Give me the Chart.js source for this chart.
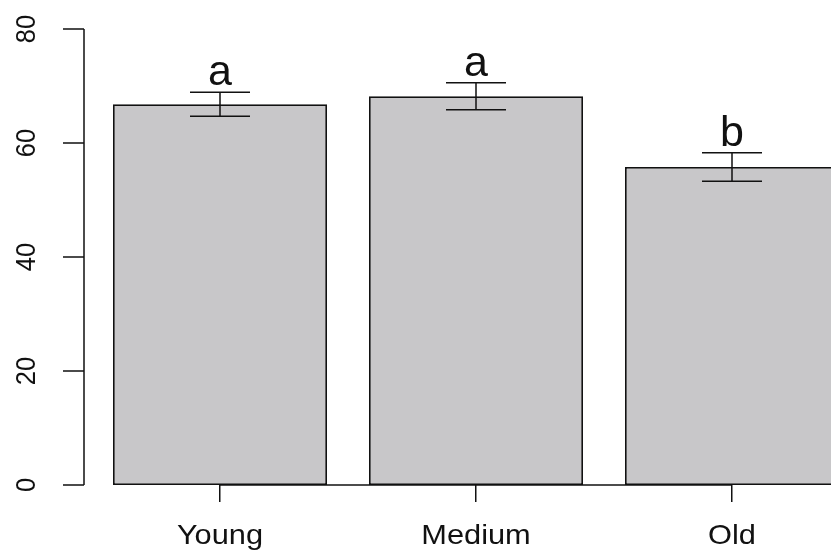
<!DOCTYPE html>
<html>
<head>
<meta charset="utf-8">
<script src="https://cdn.jsdelivr.net/npm/chart.js@4.4.1/dist/chart.umd.min.js"></script>
<style>
  html, body { margin: 0; padding: 0; background: #fff; overflow: hidden; }
  #wrap { width: 831px; height: 554px; overflow: hidden; position: relative; }
  canvas { display: block; }
</style>
</head>
<body>
<div id="wrap"><canvas id="c" width="860" height="554"></canvas></div>
<script>
// Group means with standard errors and significance letters
const categories = ['Young', 'Medium', 'Old'];
const means = [66.8, 68.2, 55.8];
const stdErr = [2.1, 2.35, 2.5];
const groupLetters = ['a', 'a', 'b'];
const yTicks = [0, 20, 40, 60, 80];

const FONT = '"Liberation Sans", Arial, Helvetica, sans-serif';
const INK = '#111';
const WIDE = 1.1; // glyphs are drawn slightly wide, like the device output

// Draws the R-style y axis, the x baseline and labels, error bars and letters
const rStyleDecor = {
  id: 'rStyleDecor',
  afterDatasetsDraw(chart) {
    const { ctx, scales: { x, y }, chartArea } = chart;
    ctx.save();
    ctx.strokeStyle = INK;
    ctx.fillStyle = INK;
    ctx.lineWidth = 1.5;

    // x baseline from first to last category tick
    const bY = y.getPixelForValue(0);
    ctx.beginPath();
    ctx.moveTo(x.getPixelForValue(0), bY);
    ctx.lineTo(x.getPixelForValue(categories.length - 1), bY);
    ctx.stroke();

    // category labels under the ticks
    ctx.font = '28px ' + FONT;
    ctx.textAlign = 'center';
    ctx.textBaseline = 'alphabetic';
    categories.forEach((c, i) => {
      ctx.save();
      ctx.translate(x.getPixelForValue(i), bY + 59);
      ctx.scale(WIDE, 1);
      ctx.fillText(c, 0, 0);
      ctx.restore();
    });

    // y axis line, ticks and rotated labels
    const ax = chartArea.left - 8;
    ctx.beginPath();
    ctx.moveTo(ax, y.getPixelForValue(yTicks[0]));
    ctx.lineTo(ax, y.getPixelForValue(yTicks[yTicks.length - 1]));
    yTicks.forEach(v => {
      const py = y.getPixelForValue(v);
      ctx.moveTo(ax, py);
      ctx.lineTo(ax - 21, py);
    });
    ctx.stroke();

    ctx.font = '28px ' + FONT;
    yTicks.forEach(v => {
      const py = y.getPixelForValue(v);
      ctx.save();
      ctx.translate(ax - 49, py);
      ctx.rotate(-Math.PI / 2);
      ctx.scale(1 / WIDE, 1);
      ctx.fillText(String(v), 0, 0);
      ctx.restore();
    });

    // error bars and group letters
    const meta = chart.getDatasetMeta(0);
    ctx.font = '43px ' + FONT;
    meta.data.forEach((bar, i) => {
      const cx = bar.x;
      const hi = y.getPixelForValue(means[i] + stdErr[i]);
      const lo = y.getPixelForValue(means[i] - stdErr[i]);
      ctx.beginPath();
      ctx.moveTo(cx, hi);
      ctx.lineTo(cx, lo);
      ctx.moveTo(cx - 30, hi);
      ctx.lineTo(cx + 30, hi);
      ctx.moveTo(cx - 30, lo);
      ctx.lineTo(cx + 30, lo);
      ctx.stroke();
      ctx.fillText(groupLetters[i], cx, hi - 7);
    });
    ctx.restore();
  }
};

new Chart(document.getElementById('c'), {
  type: 'bar',
  data: {
    labels: categories,
    datasets: [{
      data: means,
      backgroundColor: 'rgb(200,199,201)',
      borderColor: INK,
      borderWidth: 1.8,
      borderSkipped: false,
      barPercentage: 1,
      categoryPercentage: 0.836
    }]
  },
  options: {
    responsive: false,
    animation: false,
    devicePixelRatio: 1,
    layout: { padding: { left: 92, top: 29, right: 0, bottom: 0 } },
    plugins: { legend: { display: false }, tooltip: { enabled: false } },
    scales: {
      x: {
        offset: true,
        border: { display: false },
        grid: {
          display: true,
          drawOnChartArea: false,
          offset: false,
          tickLength: 17,
          color: INK,
          lineWidth: 1.5
        },
        ticks: { display: false },
        afterFit(scale) { scale.height = 69; }
      },
      y: {
        display: false,
        min: 0,
        max: 80
      }
    }
  },
  plugins: [rStyleDecor]
});
</script>
</body>
</html>
